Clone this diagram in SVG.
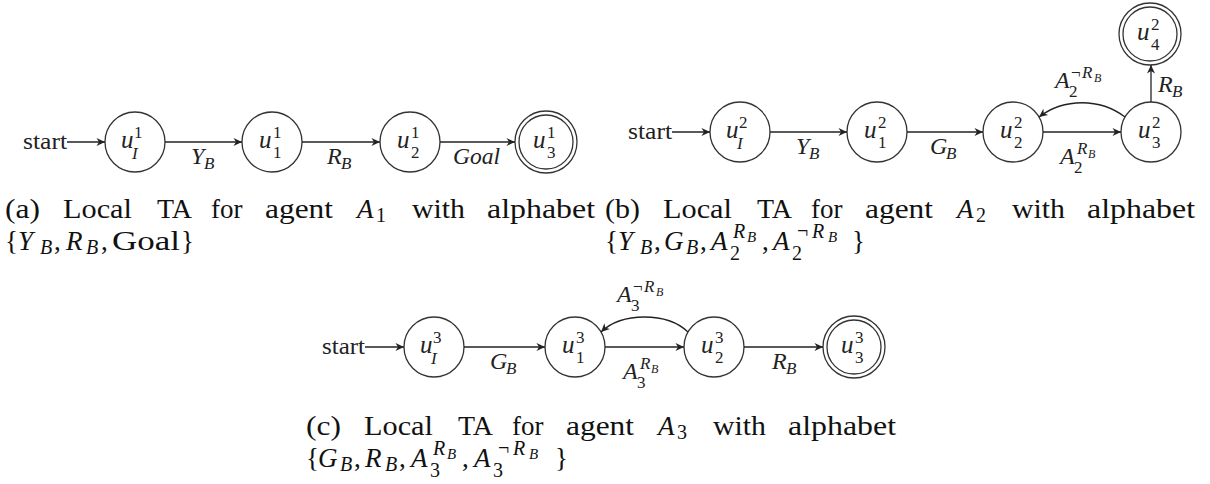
<svg xmlns="http://www.w3.org/2000/svg" width="1210" height="484" viewBox="0 0 1210 484">
<style>
text{font-family:"Liberation Serif","Times New Roman",Times,"DejaVu Serif",serif}
.n{fill:#fff;stroke:#333;stroke-width:1.3}
.e{fill:none;stroke:#222;stroke-width:1.3;marker-end:url(#ah)}
.m{font-size:25px;font-style:italic;fill:#222}
.ml{font-size:24px;font-style:italic;fill:#222}
.s{font-size:17px;fill:#222}
.si{font-size:17px;font-style:italic;fill:#222}
.ss{font-size:12px;font-style:italic;fill:#222}
.st{font-size:23px;fill:#222}
.c{font-size:27px;fill:#111}
.ci{font-size:27px;font-style:italic;fill:#111}
.cs{font-size:20px;fill:#111}
.csi{font-size:20px;font-style:italic;fill:#111}
.css{font-size:15px;font-style:italic;fill:#111}
</style>
<defs>
<marker id="ah" markerWidth="10" markerHeight="10" refX="9" refY="5" orient="auto" markerUnits="userSpaceOnUse">
<path d="M0.5,1 L9,5 L0.5,9 L3,5 Z" fill="#222"/>
</marker>
</defs>
<rect width="1210" height="484" fill="#fff"/>

<!-- ===== (a) ===== -->
<g id="a-start"><text class="st" x="23" y="149" textLength="44" lengthAdjust="spacingAndGlyphs">start</text></g>
<g id="a-uI"><circle class="n" cx="135" cy="142" r="30"/><text class="m" x="121" y="148">u</text><text class="s" x="134" y="138">1</text><text class="si" x="132" y="159">I</text></g>
<g id="a-u1"><circle class="n" cx="272" cy="142" r="30"/><text class="m" x="259" y="148">u</text><text class="s" x="273" y="138">1</text><text class="s" x="273" y="158">1</text></g>
<g id="a-u2"><circle class="n" cx="410" cy="142" r="30"/><text class="m" x="397" y="148">u</text><text class="s" x="411" y="138">1</text><text class="s" x="411" y="158">2</text></g>
<g id="a-u3"><circle class="n" cx="546" cy="142" r="31"/><circle class="n" cx="546" cy="142" r="27"/><text class="m" x="533" y="148">u</text><text class="s" x="547" y="138">1</text><text class="s" x="547" y="158">3</text></g>

<!-- ===== (b) ===== -->
<g id="b-start"><text class="st" x="628" y="139" textLength="44" lengthAdjust="spacingAndGlyphs">start</text></g>
<g id="b-uI"><circle class="n" cx="740" cy="132" r="30"/><text class="m" x="726" y="138">u</text><text class="s" x="739" y="128">2</text><text class="si" x="737" y="149">I</text></g>
<g id="b-u1"><circle class="n" cx="877" cy="132" r="30"/><text class="m" x="864" y="138">u</text><text class="s" x="878" y="128">2</text><text class="s" x="878" y="148">1</text></g>
<g id="b-u2"><circle class="n" cx="1013" cy="132" r="30"/><text class="m" x="1000" y="138">u</text><text class="s" x="1014" y="128">2</text><text class="s" x="1014" y="148">2</text></g>
<g id="b-u3"><circle class="n" cx="1151" cy="132" r="30"/><text class="m" x="1138" y="138">u</text><text class="s" x="1152" y="128">2</text><text class="s" x="1152" y="148">3</text></g>
<g id="b-u4"><circle class="n" cx="1150" cy="34" r="31"/><circle class="n" cx="1150" cy="34" r="27"/><text class="m" x="1137" y="40">u</text><text class="s" x="1151" y="30">2</text><text class="s" x="1151" y="50">4</text></g>

<!-- ===== (c) ===== -->
<g id="c-start"><text class="st" x="322" y="354" textLength="43" lengthAdjust="spacingAndGlyphs">start</text></g>
<g id="c-uI"><circle class="n" cx="434" cy="347" r="30"/><text class="m" x="420" y="353">u</text><text class="s" x="433" y="343">3</text><text class="si" x="431" y="364">I</text></g>
<g id="c-u1"><circle class="n" cx="575" cy="347" r="30"/><text class="m" x="562" y="353">u</text><text class="s" x="576" y="343">3</text><text class="s" x="576" y="363">1</text></g>
<g id="c-u2"><circle class="n" cx="714" cy="347" r="30"/><text class="m" x="701" y="353">u</text><text class="s" x="715" y="343">3</text><text class="s" x="715" y="363">2</text></g>
<g id="c-u3"><circle class="n" cx="854" cy="347" r="31"/><circle class="n" cx="854" cy="347" r="27"/><text class="m" x="841" y="353">u</text><text class="s" x="855" y="343">3</text><text class="s" x="855" y="363">3</text></g>

<!-- ===== connectors ===== -->
<g id="connectors">
<path class="e" d="M67,142 L105,142"/>
<path class="e" d="M165,142 L242,142"/>
<path class="e" d="M302,142 L380,142"/>
<path class="e" d="M440,142 L515,142"/>

<path class="e" d="M672,132 L710,132"/>
<path class="e" d="M770,132 L847,132"/>
<path class="e" d="M907,132 L983,132"/>
<path class="e" d="M1043,132 L1121,132"/>
<path class="e" d="M1151,102 L1151,65"/>
<path class="e" d="M1125,117 C1100,98 1064,98 1039,117"/>

<path class="e" d="M365,347 L404,347"/>
<path class="e" d="M464,347 L545,347"/>
<path class="e" d="M605,347 L684,347"/>
<path class="e" d="M744,347 L823,347"/>
<path class="e" d="M688,332 C667,312 622,312 601,332"/>
</g>

<!-- ===== edge labels ===== -->
<g id="edge-labels">
<text class="ml" x="191" y="164">Y</text><text class="si" x="204" y="169">B</text>
<text class="ml" x="327" y="164">R</text><text class="si" x="341" y="169">B</text>
<text class="ml" x="453" y="164" textLength="47" lengthAdjust="spacingAndGlyphs">Goal</text>

<text class="ml" x="796" y="154">Y</text><text class="si" x="809" y="159">B</text>
<text class="ml" x="930" y="154">G</text><text class="si" x="946" y="159">B</text>
<text class="ml" x="1158" y="92">R</text><text class="si" x="1172" y="97">B</text>
<text class="ml" x="1060" y="164">A</text><text class="s" x="1074" y="173">2</text><text class="si" x="1077" y="154">R</text><text class="ss" x="1088" y="158">B</text>
<text class="ml" x="1055" y="88">A</text><text class="s" x="1069" y="97">2</text><text class="s" x="1071" y="78">¬</text><text class="si" x="1082" y="78">R</text><text class="ss" x="1094" y="82">B</text>

<text class="ml" x="490" y="369">G</text><text class="si" x="506" y="374">B</text>
<text class="ml" x="772" y="369">R</text><text class="si" x="786" y="374">B</text>
<text class="ml" x="623" y="379">A</text><text class="s" x="637" y="388">3</text><text class="si" x="640" y="369">R</text><text class="ss" x="651" y="373">B</text>
<text class="ml" x="617" y="302">A</text><text class="s" x="631" y="311">3</text><text class="s" x="633" y="292">¬</text><text class="si" x="644" y="292">R</text><text class="ss" x="656" y="296">B</text>
</g>

<!-- ===== captions ===== -->
<g id="caption-a">
<text class="c" x="5" y="218" textLength="35" lengthAdjust="spacingAndGlyphs">(a)</text>
<text class="c" x="63" y="218" textLength="69" lengthAdjust="spacingAndGlyphs">Local</text>
<text class="c" x="157" y="218" textLength="35" lengthAdjust="spacingAndGlyphs">TA</text>
<text class="c" x="211" y="218">for</text>
<text class="c" x="265" y="218" textLength="68" lengthAdjust="spacingAndGlyphs">agent</text>
<text class="ci" x="357" y="218">A</text><text class="cs" x="376" y="222">1</text>
<text class="c" x="412" y="218" textLength="53" lengthAdjust="spacingAndGlyphs">with</text>
<text class="c" x="487" y="218" textLength="108" lengthAdjust="spacingAndGlyphs">alphabet</text>
<text class="c" x="5" y="250">{</text>
<text class="ci" x="18" y="250">Y</text><text class="csi" x="40" y="254">B</text>
<text class="c" x="54" y="250">,</text>
<text class="ci" x="66" y="250">R</text><text class="csi" x="86" y="254">B</text>
<text class="c" x="101" y="250">,</text>
<text class="c" x="112" y="250" textLength="68" lengthAdjust="spacingAndGlyphs">Goal</text>
<text class="c" x="181" y="250">}</text>
</g>

<g id="caption-b">
<text class="c" x="605" y="218" textLength="35" lengthAdjust="spacingAndGlyphs">(b)</text>
<text class="c" x="663" y="218" textLength="69" lengthAdjust="spacingAndGlyphs">Local</text>
<text class="c" x="757" y="218" textLength="35" lengthAdjust="spacingAndGlyphs">TA</text>
<text class="c" x="811" y="218">for</text>
<text class="c" x="865" y="218" textLength="68" lengthAdjust="spacingAndGlyphs">agent</text>
<text class="ci" x="957" y="218">A</text><text class="cs" x="976" y="222">2</text>
<text class="c" x="1012" y="218" textLength="53" lengthAdjust="spacingAndGlyphs">with</text>
<text class="c" x="1087" y="218" textLength="108" lengthAdjust="spacingAndGlyphs">alphabet</text>
<text class="c" x="605" y="250">{</text>
<text class="ci" x="618" y="250">Y</text><text class="csi" x="640" y="254">B</text>
<text class="c" x="654" y="250">,</text>
<text class="ci" x="664" y="250">G</text><text class="csi" x="686" y="254">B</text>
<text class="c" x="700" y="250">,</text>
<text class="ci" x="711" y="250">A</text><text class="cs" x="730" y="260">2</text><text class="csi" x="733" y="238">R</text><text class="css" x="747" y="242">B</text>
<text class="c" x="762" y="250">,</text>
<text class="ci" x="773" y="250">A</text><text class="cs" x="792" y="260">2</text><text class="cs" x="797" y="238">¬</text><text class="csi" x="812" y="238">R</text><text class="css" x="828" y="242">B</text>
<text class="c" x="852" y="250">}</text>
</g>

<g id="caption-c">
<text class="c" x="306" y="435" textLength="35" lengthAdjust="spacingAndGlyphs">(c)</text>
<text class="c" x="364" y="435" textLength="69" lengthAdjust="spacingAndGlyphs">Local</text>
<text class="c" x="458" y="435" textLength="35" lengthAdjust="spacingAndGlyphs">TA</text>
<text class="c" x="512" y="435">for</text>
<text class="c" x="566" y="435" textLength="68" lengthAdjust="spacingAndGlyphs">agent</text>
<text class="ci" x="658" y="435">A</text><text class="cs" x="677" y="439">3</text>
<text class="c" x="713" y="435" textLength="53" lengthAdjust="spacingAndGlyphs">with</text>
<text class="c" x="788" y="435" textLength="108" lengthAdjust="spacingAndGlyphs">alphabet</text>
<text class="c" x="306" y="467">{</text>
<text class="ci" x="318" y="467">G</text><text class="csi" x="340" y="471">B</text>
<text class="c" x="354" y="467">,</text>
<text class="ci" x="365" y="467">R</text><text class="csi" x="385" y="471">B</text>
<text class="c" x="399" y="467">,</text>
<text class="ci" x="411" y="467">A</text><text class="cs" x="430" y="477">3</text><text class="csi" x="433" y="455">R</text><text class="css" x="447" y="459">B</text>
<text class="c" x="462" y="467">,</text>
<text class="ci" x="474" y="467">A</text><text class="cs" x="493" y="477">3</text><text class="cs" x="498" y="455">¬</text><text class="csi" x="513" y="455">R</text><text class="css" x="529" y="459">B</text>
<text class="c" x="555" y="467">}</text>
</g>
</svg>
